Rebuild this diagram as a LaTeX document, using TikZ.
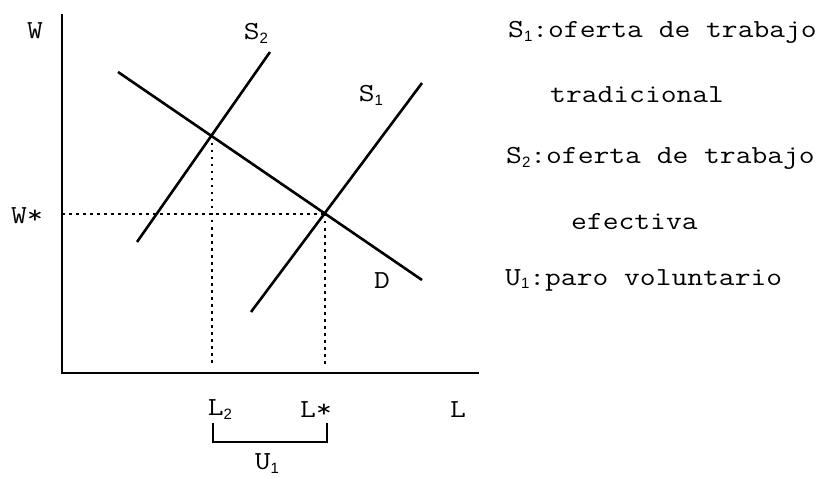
\documentclass[tikz,border=0pt]{standalone}
\usepackage{fontspec}
\setmonofont{Latin Modern Mono}[FakeStretch=1.18]
\newfontfamily\subfont{Liberation Sans}
\usepackage{tikz}
\usetikzlibrary{positioning, calc}

\newcommand{\lowidx}[1]{\raisebox{-0.15em}{\fontsize{15}{15}\selectfont\subfont #1}}

\begin{document}
\begin{tikzpicture}[
    x=1pt, y=-1pt,
    axisline/.style={line width=2.8pt},
    curveline/.style={line width=2.6pt},
    guideline/.style={line width=2pt, dash pattern=on 2.5pt off 4.5pt},
    lbl/.style={inner sep=0pt, font=\ttfamily\fontsize{26}{30}\selectfont},
    legend/.style={lbl, anchor=west},
  ]
    \useasboundingbox (0,0) rectangle (834,478);

    % axes
    \coordinate (O) at (62,373);
    \coordinate (Wtop) at (62,14);
    \coordinate (Lend) at (479,373);
    \draw[axisline] (Wtop) -- (O) -- (Lend);

    % curves
    \coordinate (Dstart) at (118,72);
    \coordinate (Dend) at (422,280);
    \coordinate (S1low) at (251,312);
    \coordinate (S1high) at (422,83);
    \coordinate (S2low) at (137,242);
    \coordinate (S2high) at (270,52);
    \draw[curveline] (Dstart) -- (Dend);
    \draw[curveline] (S1low) -- (S1high);
    \draw[curveline] (S2low) -- (S2high);

    % equilibria and guides
    \coordinate (Estar) at (325,214);
    \coordinate (Etwo) at (212,136);
    \coordinate (Wstar) at (62,214);
    \coordinate (Lstarax) at (325,367);
    \coordinate (Ltwoax) at (212,367);
    \draw[guideline] (Wstar) -- (Estar);
    \draw[guideline] (Estar) -- (Lstarax);
    \draw[guideline] (Etwo) -- (Ltwoax);

    % labels
    \node[lbl] (labW) at (35,31) {W};
    \node[lbl] (labWs) at (27,216) {W*};
    \node[lbl] (labS2) at (256,33) {S\lowidx{2}};
    \node[lbl] (labS1) at (371,95) {S\lowidx{1}};
    \node[lbl] (labD) at (382,281) {D};
    \node[lbl] (labL2) at (220,410) {L\lowidx{2}};
    \node[lbl] (labLs) at (316,410) {L*};
    \node[lbl] (labL) at (458,410) {L};
    \node[lbl] (labU1) at (267,464) {U\lowidx{1}};

    % bracket for U1
    \coordinate (Bl) at (213,423);
    \coordinate (Br) at (327,423);
    \draw[axisline] (Bl) -- ++(0,19) -| (Br);

    % legend
    \node[legend] (leg1) at (508,32) {S\lowidx{1}:oferta de trabajo};
    \node[legend] (leg2) at (550,95) {tradicional};
    \node[legend] (leg3) at (506,158) {S\lowidx{2}:oferta de trabajo};
    \node[legend] (leg4) at (571,222) {efectiva};
    \node[legend] (leg5) at (505,280) {U\lowidx{1}:paro voluntario};
  \end{tikzpicture}
\end{document}
